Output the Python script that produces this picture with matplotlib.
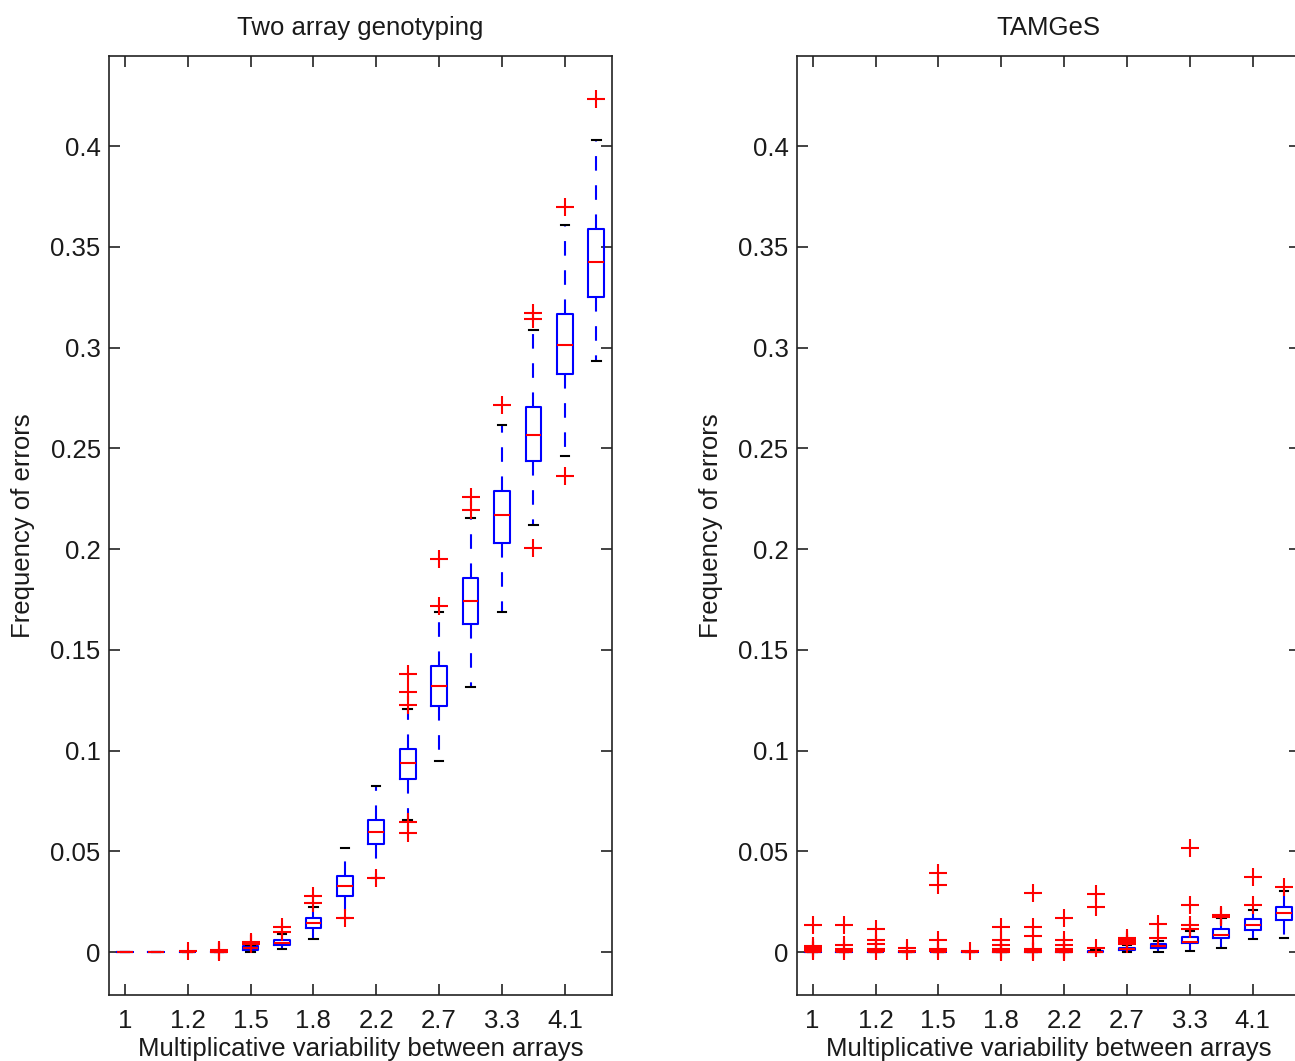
import matplotlib
matplotlib.use("Agg")
import matplotlib.pyplot as plt

plt.rcParams["font.family"] = ["Liberation Sans", "DejaVu Sans"]

# x categories (16 boxes, labels on every other one)
tick_pos = [1, 3, 5, 7, 9, 11, 13, 15]
tick_labels = ["1", "1.2", "1.5", "1.8", "2.2", "2.7", "3.3", "4.1"]
y_ticks = [0, 0.05, 0.1, 0.15, 0.2, 0.25, 0.3, 0.35, 0.4]
y_tick_labels = ["0", "0.05", "0.1", "0.15", "0.2", "0.25", "0.3", "0.35", "0.4"]

# Two array genotyping
two_q1 = [0, 0, 0, 0, 0.0008, 0.0035, 0.012, 0.0278, 0.0534, 0.0857, 0.1221, 0.163, 0.2031, 0.2437, 0.2868, 0.3249]
two_med = [0, 0, 0, 0, 0.0018, 0.0045, 0.0145, 0.0329, 0.0597, 0.094, 0.132, 0.174, 0.2169, 0.2566, 0.3014, 0.3424]
two_q3 = [0, 0, 0, 0, 0.0028, 0.006, 0.017, 0.0379, 0.0655, 0.1006, 0.1419, 0.1856, 0.2289, 0.2706, 0.3169, 0.359]
two_lo = [0, 0, 0, 0, 0.0, 0.0013, 0.0064, 0.017, 0.037, 0.0655, 0.0946, 0.1315, 0.169, 0.2119, 0.2462, 0.2933]
two_hi = [0, 0, 0, 0, 0.0035, 0.009, 0.0225, 0.0516, 0.0824, 0.1207, 0.1687, 0.2154, 0.2615, 0.3087, 0.3608, 0.403]
two_fliers = [
    [], [], [0.0003], [0.0002, 0.0006, 0.0011],
    [0.004, 0.0045, 0.005], [0.0099, 0.0125], [0.0243, 0.028], [0.0168],
    [0.0368], [0.0592, 0.0647, 0.1224, 0.1289, 0.138], [0.172, 0.195], [0.2193, 0.2258],
    [0.2715], [0.2005, 0.3142, 0.317], [0.2362, 0.3699], [0.4233],
]

# TAMGeS
tam_q1 = [0, 0, 0, 0, 0, 0, 0, 0, 0, 0, 0.001, 0.002, 0.0043, 0.0068, 0.0109, 0.0159]
tam_med = [0, 0, 0, 0, 0, 0, 0, 0, 0, 0, 0.0015, 0.003, 0.0051, 0.0084, 0.0134, 0.0192]
tam_q3 = [0, 0, 0, 0, 0, 0, 0, 0, 0, 0.0005, 0.002, 0.004, 0.0073, 0.0113, 0.0162, 0.0225]
tam_lo = [0, 0, 0, 0, 0, 0, 0, 0, 0, 0, 0, 0, 0.0007, 0.0022, 0.0063, 0.0071]
tam_hi = [0, 0, 0, 0, 0, 0, 0, 0, 0, 0.001, 0.0035, 0.0055, 0.0103, 0.0167, 0.0208, 0.0304]
tam_fliers = [
    [0.0005, 0.001, 0.002, 0.003, 0.0135],
    [0.0005, 0.0015, 0.0035, 0.0135],
    [0.0005, 0.0015, 0.0038, 0.006, 0.0117],
    [0.0003, 0.0018],
    [0.0005, 0.0015, 0.0062, 0.0333, 0.0394],
    [0.0003],
    [0.0002, 0.0007, 0.0017, 0.0037, 0.0062, 0.0126],
    [0.0002, 0.0007, 0.0017, 0.0079, 0.0126, 0.0291],
    [0.0002, 0.0007, 0.0017, 0.0037, 0.0062, 0.0167],
    [0.0018, 0.0225, 0.0288],
    [0.0042, 0.005, 0.006, 0.0072],
    [0.0068, 0.0138],
    [0.0113, 0.0134, 0.0233, 0.0518],
    [0.0175, 0.0178, 0.0182],
    [0.0233, 0.0371],
    [0.0321],
]

TEXT = "#1a1a1a"
FS = 18.5


def draw_panel(ax, q1, med, q3, lo, hi, fliers, title):
    stats = []
    for i in range(len(med)):
        stats.append({"q1": q1[i], "med": med[i], "q3": q3[i],
                      "whislo": lo[i], "whishi": hi[i], "fliers": fliers[i]})
    ax.bxp(stats, positions=range(1, len(stats) + 1), widths=0.5, capwidths=0.27,
           manage_ticks=False,
           boxprops=dict(color="blue", linewidth=1.5),
           whiskerprops=dict(color="blue", linewidth=1.5, linestyle=(0, (7, 7))),
           capprops=dict(color="black", linewidth=1.5),
           medianprops=dict(color="red", linewidth=1.5),
           flierprops=dict(marker="+", markersize=13, markeredgecolor="red",
                           markeredgewidth=1.5, linestyle="none"))
    ax.set_xlim(0.5, 16.5)
    ax.set_ylim(-0.0213, 0.4447)
    ax.set_xticks(tick_pos)
    ax.set_xticklabels(tick_labels)
    ax.set_yticks(y_ticks)
    ax.set_yticklabels(y_tick_labels)
    ax.tick_params(direction="in", top=True, right=True, length=8, width=1.2,
                   labelsize=FS, labelcolor=TEXT, color="#222222")
    ax.tick_params(axis="x", pad=10)
    ax.tick_params(axis="y", pad=6)
    for s in ax.spines.values():
        s.set_linewidth(1.2)
        s.set_color("#222222")
    ax.set_title(title, fontsize=FS, color=TEXT, pad=15)
    ax.set_xlabel("Multiplicative variability between arrays", fontsize=FS, color=TEXT, labelpad=3)
    ax.set_ylabel("Frequency of errors", fontsize=FS, color=TEXT, labelpad=11)


fig = plt.figure(figsize=(12.95, 10.61), dpi=100)
ax1 = fig.add_axes([0.0842, 0.0622, 0.3884, 0.885])
ax2 = fig.add_axes([0.6154, 0.0622, 0.3884, 0.885])

draw_panel(ax1, two_q1, two_med, two_q3, two_lo, two_hi, two_fliers, "Two array genotyping")
draw_panel(ax2, tam_q1, tam_med, tam_q3, tam_lo, tam_hi, tam_fliers, "TAMGeS")

fig.savefig("out.png", dpi=100)
